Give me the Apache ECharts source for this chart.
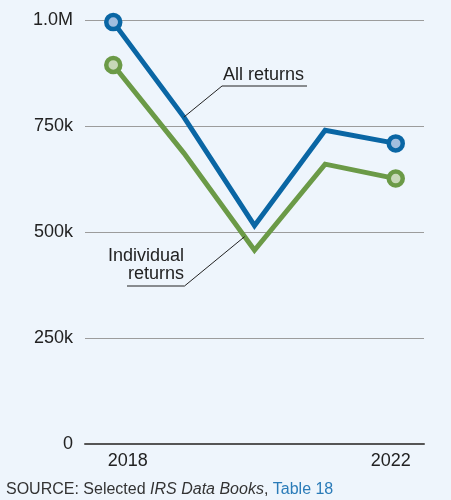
<!DOCTYPE html>
<html>
<head>
<meta charset="utf-8">
<script src="https://cdn.jsdelivr.net/npm/echarts@6/dist/echarts.min.js"></script>
<style>
  html, body { margin: 0; padding: 0; background: #EEF5FC; }
  #chart { width: 451px; height: 500px; }
</style>
</head>
<body>
<div id="chart"></div>
<script>
// Returns filed per year
const years = [2018, 2019, 2020, 2021, 2022];
const allReturns = [995000, 771000, 515000, 740000, 709000];
const individualReturns = [894000, 686000, 457000, 660000, 626000];

// Axis labels
const yTickLabels = { 0: '0', 250000: '250k', 500000: '500k', 750000: '750k', 1000000: '1.0M' };
const xTickLabels = [2018, 2022];

const FONT = '"Liberation Sans", Arial, Helvetica, sans-serif';
const BLUE = '#0A66A4';
const BLUE_FILL = '#A2BEDF';
const GREEN = '#6B9A47';
const GREEN_FILL = '#C7D8B8';
const TEXT = '#222222';

function points(values, fill, stroke) {
  const last = values.length - 1;
  return values.map((v, i) => ({
    value: [years[i], v],
    symbol: (i === 0 || i === last) ? 'circle' : 'none',
    itemStyle: { color: fill, borderColor: stroke, borderWidth: 4.5 }
  }));
}

const chart = echarts.init(document.getElementById('chart'), null, { renderer: 'canvas' });

chart.setOption({
  backgroundColor: '#EEF5FC',
  animation: false,
  textStyle: { fontFamily: FONT },
  grid: { left: 85, right: 27, top: 20, bottom: 56, containLabel: false },
  xAxis: {
    type: 'value',
    min: 2017.6,
    max: 2022.4,
    interval: 0.4,
    axisLine: { show: true, onZero: true, lineStyle: { color: '#555555', width: 2 } },
    axisTick: { show: false },
    splitLine: { show: false },
    axisLabel: {
      margin: 8,
      fontSize: 18,
      color: TEXT,
      fontFamily: FONT,
      showMinLabel: true,
      showMaxLabel: true,
      hideOverlap: false,
      formatter: function (v) {
        if (Math.abs(v - xTickLabels[0]) < 1e-6) return '{a|' + xTickLabels[0] + '}';
        if (Math.abs(v - xTickLabels[1]) < 1e-6) return '{b|' + xTickLabels[1] + '}';
        return '';
      },
      rich: {
        a: { fontSize: 18, color: TEXT, fontFamily: FONT, padding: [0, 0, 0, 29] },
        b: { fontSize: 18, color: TEXT, fontFamily: FONT, padding: [0, 10, 0, 0] }
      }
    }
  },
  yAxis: {
    type: 'value',
    min: 0,
    max: 1000000,
    interval: 250000,
    axisLine: { show: false },
    axisTick: { show: false },
    splitLine: { show: true, lineStyle: { color: '#9C9C9C', width: 1.2 } },
    axisLabel: {
      margin: 12,
      fontSize: 18,
      color: TEXT,
      fontFamily: FONT,
      formatter: v => yTickLabels[v] !== undefined ? yTickLabels[v] : ''
    }
  },
  series: [
    {
      name: 'Individual returns',
      type: 'line',
      data: points(individualReturns, GREEN_FILL, GREEN),
      symbolSize: 14,
      lineStyle: { color: GREEN, width: 5, join: 'miter' },
      z: 2
    },
    {
      name: 'All returns',
      type: 'line',
      data: points(allReturns, BLUE_FILL, BLUE),
      symbolSize: 14,
      lineStyle: { color: BLUE, width: 5, join: 'miter' },
      z: 3
    }
  ]
});

// Annotation callouts, anchored to the series through the axis scales
const blueAnchor = chart.convertToPixel({ seriesIndex: 1 }, [years[1], allReturns[1]]);
const g1 = chart.convertToPixel({ seriesIndex: 0 }, [years[1], individualReturns[1]]);
const g2 = chart.convertToPixel({ seriesIndex: 0 }, [years[2], individualReturns[2]]);
const t = 0.86;
const greenAnchor = [g1[0] + (g2[0] - g1[0]) * t, g1[1] + (g2[1] - g1[1]) * t];

const lineStyle = { stroke: '#222222', lineWidth: 1 };

chart.setOption({
  graphic: [
    // "All returns"
    { type: 'text', z: 10, style: { x: 223, y: 75, text: 'All returns', fill: TEXT, font: '18px ' + FONT, textAlign: 'left', textVerticalAlign: 'middle' } },
    { type: 'line', z: 10, shape: { x1: 222, y1: 86, x2: 307, y2: 86 }, style: lineStyle },
    { type: 'line', z: 10, shape: { x1: 222, y1: 86, x2: blueAnchor[0], y2: blueAnchor[1] }, style: lineStyle },
    // "Individual returns"
    { type: 'text', z: 10, style: { x: 184, y: 256, text: 'Individual', fill: TEXT, font: '18px ' + FONT, textAlign: 'right', textVerticalAlign: 'middle' } },
    { type: 'text', z: 10, style: { x: 184, y: 274.5, text: 'returns', fill: TEXT, font: '18px ' + FONT, textAlign: 'right', textVerticalAlign: 'middle' } },
    { type: 'line', z: 10, shape: { x1: 127, y1: 286, x2: 184.5, y2: 286 }, style: lineStyle },
    { type: 'line', z: 10, shape: { x1: 184.5, y1: 286, x2: greenAnchor[0], y2: greenAnchor[1] }, style: lineStyle },
    // Source note
    {
      type: 'text', z: 10,
      style: {
        x: 6, y: 490,
        textVerticalAlign: 'middle',
        text: '{a|SOURCE: Selected }{i|IRS Data Books}{a|, }{l|Table 18}',
        rich: {
          a: { fontSize: 16, fontFamily: FONT, fill: '#333333', color: '#333333' },
          i: { fontSize: 16, fontFamily: FONT, fontStyle: 'italic', fill: '#333333', color: '#333333' },
          l: { fontSize: 16, fontFamily: FONT, fill: '#2A7BB8', color: '#2A7BB8' }
        }
      }
    }
  ]
});
</script>
</body>
</html>
